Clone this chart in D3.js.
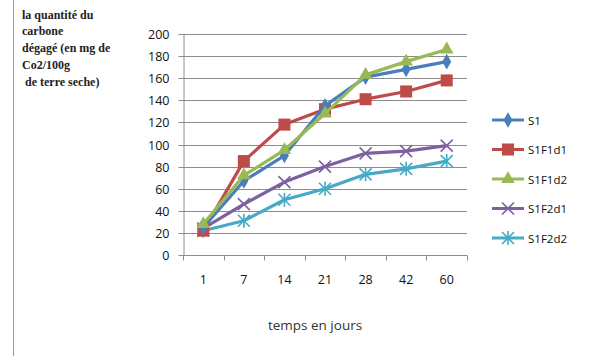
<!DOCTYPE html>
<html>
<head>
<meta charset="utf-8">
<script src="https://cdn.jsdelivr.net/npm/d3@7/dist/d3.min.js"></script>
<style>
  html, body { margin: 0; padding: 0; background: #fff; }
  svg { display: block; }
</style>
</head>
<body>
<svg id="chart" width="594" height="356"></svg>
<script>
// Days of incubation (category axis)
const days = ["1", "7", "14", "21", "28", "42", "60"];
const yTicks = [0, 20, 40, 60, 80, 100, 120, 140, 160, 180, 200];

// CO2 released (mg CO2 / 100 g dry soil) per treatment
const s1     = [25, 67, 90, 135, 161, 168, 175];
const s1f1d1 = [22, 85, 118, 132, 141, 148, 158];
const s1f1d2 = [28, 72, 95, 128, 163, 175, 186];
const s1f2d1 = [24, 46, 66, 80, 92, 94, 99];
const s1f2d2 = [22, 31, 50, 60, 73, 78, 85];

const seriesNames = ["S1", "S1F1d1", "S1F1d2", "S1F2d1", "S1F2d2"];
const seriesColors = ["#4a7ebb", "#be4b48", "#98b954", "#7d60a0", "#46aac5"];
const seriesMarkers = ["diamond", "square", "triangle", "cross", "star"];
const seriesValues = [s1, s1f1d1, s1f1d2, s1f2d1, s1f2d2];

const svg = d3.select("#chart");

// left border line
svg.append("line").attr("x1", 13.5).attr("x2", 13.5).attr("y1", 0).attr("y2", 356)
  .attr("stroke", "#9a9a9a").attr("stroke-width", 1);

const plot = { left: 183, right: 467, top: 34, bottom: 255 };

const x = d3.scaleBand().domain(days).range([plot.left, plot.right]);
const y = d3.scaleLinear().domain([0, 200]).range([plot.bottom, plot.top]);

// horizontal gridlines
svg.append("g").selectAll("line").data(yTicks.filter(d => d > 0)).join("line")
  .attr("x1", plot.left).attr("x2", plot.right)
  .attr("y1", d => Math.round(y(d)) + 0.5).attr("y2", d => Math.round(y(d)) + 0.5)
  .attr("stroke", "#8c8c8c").attr("stroke-width", 1);

// y axis
const yAxis = svg.append("g").attr("transform", `translate(${plot.left + 0.5},0.5)`)
  .call(d3.axisLeft(y).tickValues(yTicks).tickSize(5).tickPadding(9).tickSizeOuter(0));
yAxis.select(".domain").attr("stroke", "#8c8c8c");
yAxis.selectAll(".tick line").attr("stroke", "#8c8c8c");
yAxis.selectAll("text").attr("font-family", "Open Sans, sans-serif").attr("font-size", 12.5)
  .attr("fill", "#111");
yAxis.selectAll(".tick").attr("transform", d => `translate(0,${Math.round(y(d))})`);

// x axis
const xAxisG = svg.append("g").attr("transform", `translate(0,${plot.bottom + 0.5})`);
xAxisG.append("line").attr("x1", plot.left).attr("x2", plot.right).attr("stroke", "#8c8c8c");
const bounds = days.map(d => x(d)).concat([plot.right]);
xAxisG.selectAll("line.tk").data(bounds).join("line").attr("class", "tk")
  .attr("x1", d => Math.round(d) + 0.5).attr("x2", d => Math.round(d) + 0.5)
  .attr("y1", 0).attr("y2", 5).attr("stroke", "#8c8c8c");
xAxisG.selectAll("text").data(days).join("text")
  .attr("x", d => x(d) + x.bandwidth() / 2).attr("y", 28)
  .attr("text-anchor", "middle")
  .attr("font-family", "Open Sans, sans-serif").attr("font-size", 12.5).attr("fill", "#111")
  .text(d => d);

// axis titles
svg.append("text").attr("x", 315).attr("y", 330).attr("text-anchor", "middle")
  .attr("font-family", "Open Sans, sans-serif").attr("font-size", 13.5).attr("fill", "#333")
  .text("temps en jours");

const yTitle = ["la quantité du", "carbone", "dégagé (en mg de", "Co2/100g", " de terre seche)"];
svg.append("g").selectAll("text").data(yTitle).join("text")
  .attr("x", (d, i) => i === 4 ? 25 : 22).attr("y", (d, i) => 18.5 + i * 16.8)
  .attr("font-family", "Liberation Serif, serif").attr("font-size", 12)
  .attr("font-weight", "bold").attr("fill", "#222")
  .text(d => d.trim());

// marker drawing
function drawMarker(g, type, color, cx, cy) {
  if (type === "diamond") {
    g.append("path").attr("d", d3.symbol(d3.symbolDiamond, 70)())
      .attr("transform", `translate(${cx},${cy})`).attr("fill", color);
  } else if (type === "square") {
    g.append("rect").attr("x", cx - 6).attr("y", cy - 6).attr("width", 12).attr("height", 12)
      .attr("fill", color);
  } else if (type === "triangle") {
    g.append("path").attr("d", d3.symbol(d3.symbolTriangle, 80)())
      .attr("transform", `translate(${cx},${cy})`).attr("fill", color);
  } else if (type === "cross") {
    g.append("path").attr("d", `M${cx-6},${cy-6}L${cx+6},${cy+6}M${cx-6},${cy+6}L${cx+6},${cy-6}`)
      .attr("stroke", color).attr("stroke-width", 1.6).attr("fill", "none");
  } else if (type === "star") {
    g.append("path").attr("d", `M${cx-6},${cy-6}L${cx+6},${cy+6}M${cx-6},${cy+6}L${cx+6},${cy-6}M${cx},${cy-7}L${cx},${cy+7}`)
      .attr("stroke", color).attr("stroke-width", 1.6).attr("fill", "none");
  }
}

const cxOf = d => x(d) + x.bandwidth() / 2;
const line = d3.line().x((v, i) => cxOf(days[i])).y(v => y(v));

// draw series, S1F1d2 and S1 on top
const order = [4, 3, 1, 0, 2];
order.forEach(si => {
  const g = svg.append("g");
  g.append("path").datum(seriesValues[si]).attr("d", line)
    .attr("fill", "none").attr("stroke", seriesColors[si]).attr("stroke-width", 3.2)
    .attr("stroke-linejoin", "round");
  seriesValues[si].forEach((v, i) => drawMarker(g, seriesMarkers[si], seriesColors[si], cxOf(days[i]), y(v)));
});

// legend
const legend = svg.append("g");
seriesNames.forEach((name, i) => {
  const ly = 120 + i * 29.5;
  const g = legend.append("g");
  g.append("line").attr("x1", 492).attr("x2", 524).attr("y1", ly).attr("y2", ly)
    .attr("stroke", seriesColors[i]).attr("stroke-width", 3);
  drawMarker(g, seriesMarkers[i], seriesColors[i], 508, ly);
  g.append("text").attr("x", 528).attr("y", ly + 4.5)
    .attr("font-family", "Open Sans, sans-serif").attr("font-size", 11.5).attr("fill", "#111")
    .text(name);
});
</script>
</body>
</html>
